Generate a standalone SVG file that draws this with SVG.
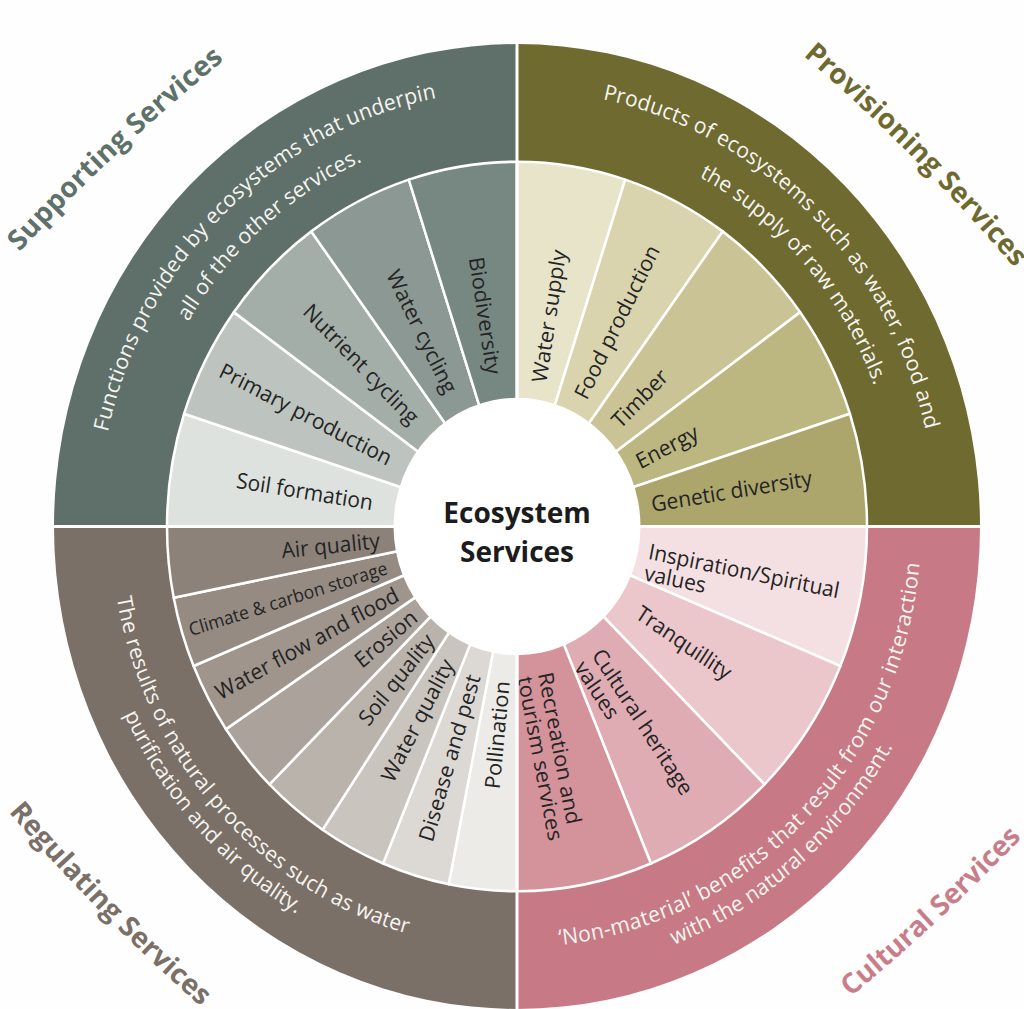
<svg xmlns="http://www.w3.org/2000/svg" width="1024" height="1009" viewBox="0 0 1024 1009">
  <style>
    .lbl { font-family: "Open Sans", "Liberation Sans", sans-serif; font-size: 21px; fill: #242424; }
    .small { font-size: 17.5px; }
    .desc { font-family: "Open Sans", "Liberation Sans", sans-serif; font-size: 21px; fill: #f5f4f0; }
    .title { font-family: "Open Sans", "Liberation Sans", sans-serif; font-size: 28px; font-weight: 700; }
    .hub { font-family: "Open Sans", "Liberation Sans", sans-serif; font-size: 28px; font-weight: 700; fill: #1c1c1c; }
    .seg { stroke: #ffffff; stroke-width: 2.5; stroke-linejoin: round; }
    .divider { stroke: #ffffff; stroke-width: 3; }
  </style>
  <defs>
    <!-- description arcs, wheel coordinates (centre at 0,0) -->
    <path id="arcSup1" d="M-406.0 103.5A419 419 0 0 1 113.4 -403.4"/>
    <path id="arcSup2" d="M-375.3 76.4A383 383 0 0 1 121.5 -363.2"/>
    <path id="arcPro1" d="M-112.0 -403.7A419 419 0 0 1 405.6 104.9"/>
    <path id="arcPro2" d="M-73.5 -374.9A382 382 0 0 1 361.4 123.7"/>
    <path id="arcReg1" d="M-386.1 -125.5A406 406 0 0 0 84.4 397.1"/>
    <path id="arcReg2" d="M-410.9 -133.5A432 432 0 0 0 89.8 422.6"/>
    <path id="arcCul1" d="M-101.2 391.1A404 404 0 0 0 389.3 -108.0"/>
    <path id="arcCul2" d="M-140.3 407.5A431 431 0 0 0 423.1 -82.2"/>
    <!-- title baselines, page coordinates -->
    <path id="tSup" d="M6 266.7A2000 2000 0 0 1 240 47.3"/>
    <path id="tPro" d="M791.4 45.4A2000 2000 0 0 1 1024.6 279.6"/>
    <path id="tReg" d="M-1.6 800.3A2000 2000 0 0 0 212.6 1016.7"/>
    <path id="tCul" d="M838 1007.2A2000 2000 0 0 0 1033 825.8"/>
  </defs>

  <rect width="1024" height="1009" fill="#fefefe"/>

  <g id="wheel" transform="translate(517,526.5) scale(1,1.042)">

    <!-- Supporting services -->
    <g id="supporting">
      <path fill="#5f706a" d="M0 0L-463 0A463 463 0 0 1 0 -463Z"/>
      <text class="desc"><textPath href="#arcSup1" startOffset="50%" text-anchor="middle" textLength="486" lengthAdjust="spacing">Functions provided by ecosystems that underpin</textPath></text>
      <text class="desc"><textPath href="#arcSup2" startOffset="50%" text-anchor="middle" textLength="236" lengthAdjust="spacing">all of the other services.</textPath></text>
      <g id="soil-formation">
        <path class="seg" fill="#dde2de" d="M0 0L-350 0A350 350 0 0 1 -332.9 -108.2Z"/>
        <text class="lbl" transform="rotate(9)" x="-146" dy=".35em" text-anchor="end">Soil formation</text>
      </g>
      <g id="primary-production">
        <path class="seg" fill="#bdc4bf" d="M0 0L-332.9 -108.2A350 350 0 0 1 -283.2 -205.7Z"/>
        <text class="lbl" transform="rotate(27)" x="-142" dy=".35em" text-anchor="end">Primary production</text>
      </g>
      <g id="nutrient-cycling">
        <path class="seg" fill="#a4aea9" d="M0 0L-283.2 -205.7A350 350 0 0 1 -205.7 -283.2Z"/>
        <text class="lbl" transform="rotate(45)" x="-144" dy=".35em" text-anchor="end">Nutrient cycling</text>
      </g>
      <g id="water-cycling">
        <path class="seg" fill="#8b9893" d="M0 0L-205.7 -283.2A350 350 0 0 1 -108.2 -332.9Z"/>
        <text class="lbl" transform="rotate(63)" x="-145" dy=".35em" text-anchor="end">Water cycling</text>
      </g>
      <g id="biodiversity">
        <path class="seg" fill="#778782" d="M0 0L-108.2 -332.9A350 350 0 0 1 0 -350Z"/>
        <text class="lbl" transform="rotate(81)" x="-148" dy=".35em" text-anchor="end">Biodiversity</text>
      </g>
    </g>

    <!-- Provisioning services -->
    <g id="provisioning">
      <path fill="#6e6a30" d="M0 0L0 -463A463 463 0 0 1 463 0Z"/>
      <text class="desc"><textPath href="#arcPro1" startOffset="50%" text-anchor="middle" textLength="478" lengthAdjust="spacing">Products of ecosystems such as water, food and</textPath></text>
      <text class="desc"><textPath href="#arcPro2" startOffset="50%" text-anchor="middle" textLength="272" lengthAdjust="spacing">the supply of raw materials.</textPath></text>
      <g id="water-supply">
        <path class="seg" fill="#e7e4ca" d="M0 0L0 -350A350 350 0 0 1 108.2 -332.9Z"/>
        <text class="lbl" transform="rotate(-81)" x="140" dy=".35em">Water supply</text>
      </g>
      <g id="food-production">
        <path class="seg" fill="#d9d4ae" d="M0 0L108.2 -332.9A350 350 0 0 1 205.7 -283.2Z"/>
        <text class="lbl" transform="rotate(-63)" x="139" dy=".35em">Food production</text>
      </g>
      <g id="timber">
        <path class="seg" fill="#c9c395" d="M0 0L205.7 -283.2A350 350 0 0 1 283.2 -205.7Z"/>
        <text class="lbl" transform="rotate(-45)" x="139" dy=".35em">Timber</text>
      </g>
      <g id="energy">
        <path class="seg" fill="#bcb681" d="M0 0L283.2 -205.7A350 350 0 0 1 332.9 -108.2Z"/>
        <text class="lbl" transform="rotate(-27)" x="135" dy=".35em">Energy</text>
      </g>
      <g id="genetic-diversity">
        <path class="seg" fill="#aca66c" d="M0 0L332.9 -108.2A350 350 0 0 1 350 0Z"/>
        <text class="lbl" transform="rotate(-9)" x="136" dy=".35em">Genetic diversity</text>
      </g>
    </g>

    <!-- Cultural services -->
    <g id="cultural">
      <path fill="#c77a85" d="M0 0L463 0A463 463 0 0 1 0 463Z"/>
      <text class="desc"><textPath href="#arcCul1" startOffset="50%" text-anchor="middle" textLength="557" lengthAdjust="spacing">‘Non-material’ benefits that result from our interaction</textPath></text>
      <text class="desc"><textPath href="#arcCul2" startOffset="50%" text-anchor="middle" textLength="296" lengthAdjust="spacing">with the natural environment.</textPath></text>
      <g id="inspiration-values">
        <path class="seg" fill="#f4e0e2" d="M0 0L350 0A350 350 0 0 1 323.4 133.9Z"/>
        <text class="lbl" transform="rotate(11.25)"><tspan x="134" y="5">Inspiration/Spiritual</tspan><tspan x="134" y="26">values</tspan></text>
      </g>
      <g id="tranquillity">
        <path class="seg" fill="#ebc6cb" d="M0 0L323.4 133.9A350 350 0 0 1 247.5 247.5Z"/>
        <text class="lbl" transform="rotate(33.75)" x="146" dy=".35em">Tranquillity</text>
      </g>
      <g id="cultural-heritage">
        <path class="seg" fill="#e0acb3" d="M0 0L247.5 247.5A350 350 0 0 1 133.9 323.4Z"/>
        <text class="lbl" transform="rotate(56.25)"><tspan x="144" y="7">Cultural heritage</tspan><tspan x="144" y="28">values</tspan></text>
      </g>
      <g id="recreation-tourism">
        <path class="seg" fill="#d4929b" d="M0 0L133.9 323.4A350 350 0 0 1 0 350Z"/>
        <text class="lbl" transform="rotate(78.75)"><tspan x="143" y="7">Recreation and</tspan><tspan x="143" y="28">tourism services</tspan></text>
      </g>
    </g>

    <!-- Regulating services -->
    <g id="regulating">
      <path fill="#7b7068" d="M0 0L0 463A463 463 0 0 1 -463 0Z"/>
      <text class="desc"><textPath href="#arcReg1" startOffset="50%" text-anchor="middle" textLength="458" lengthAdjust="spacing">The results of natural processes such as water</textPath></text>
      <text class="desc"><textPath href="#arcReg2" startOffset="50%" text-anchor="middle" textLength="262" lengthAdjust="spacing">purification and air quality.</textPath></text>
      <g id="pollination">
        <path class="seg" fill="#edebe8" d="M0 0L0 350A350 350 0 0 1 -68.3 343.3Z"/>
        <text class="lbl" transform="rotate(-84.375)" x="-149" dy=".35em" text-anchor="end">Pollination</text>
      </g>
      <g id="disease-and-pest">
        <path class="seg" fill="#dcd8d3" d="M0 0L-68.3 343.3A350 350 0 0 1 -133.9 323.4Z"/>
        <text class="lbl" transform="rotate(-73.125)" x="-149" dy=".35em" text-anchor="end">Disease and pest</text>
      </g>
      <g id="water-quality">
        <path class="seg" fill="#cac4be" d="M0 0L-133.9 323.4A350 350 0 0 1 -194.5 291.0Z"/>
        <text class="lbl" transform="rotate(-61.875)" x="-146" dy=".35em" text-anchor="end">Water quality</text>
      </g>
      <g id="soil-quality">
        <path class="seg" fill="#bab3ac" d="M0 0L-194.5 291.0A350 350 0 0 1 -247.5 247.5Z"/>
        <text class="lbl" transform="rotate(-50.625)" x="-137" dy=".35em" text-anchor="end">Soil quality</text>
      </g>
      <g id="erosion">
        <path class="seg" fill="#aba39b" d="M0 0L-247.5 247.5A350 350 0 0 1 -291.0 194.5Z"/>
        <text class="lbl" transform="rotate(-39.375)" x="-133" dy=".35em" text-anchor="end">Erosion</text>
      </g>
      <g id="water-flow">
        <path class="seg" fill="#9f958d" d="M0 0L-291.0 194.5A350 350 0 0 1 -323.4 133.9Z"/>
        <text class="lbl" transform="rotate(-28.125)" x="-136" dy=".35em" text-anchor="end">Water flow and flood</text>
      </g>
      <g id="climate-carbon">
        <path class="seg" fill="#968b83" d="M0 0L-323.4 133.9A350 350 0 0 1 -343.3 68.3Z"/>
        <text class="lbl small" transform="rotate(-16.875)" x="-136" dy=".35em" text-anchor="end">Climate &amp; carbon storage</text>
      </g>
      <g id="air-quality">
        <path class="seg" fill="#8d8279" d="M0 0L-343.3 68.3A350 350 0 0 1 -350 0Z"/>
        <text class="lbl" transform="rotate(-5.625)" x="-138" dy=".35em" text-anchor="end">Air quality</text>
      </g>
    </g>

    <!-- white gaps between the four quadrants -->
    <line class="divider" x1="0" y1="-470" x2="0" y2="470"/>
    <line class="divider" x1="-470" y1="0" x2="470" y2="0"/>

    <!-- hub disc -->
    <circle id="hub-disc" r="123.5" fill="#ffffff"/>
  </g>

  <g id="hub">
    <text class="hub" x="517" y="523" text-anchor="middle">Ecosystem</text>
    <text class="hub" x="517" y="562" text-anchor="middle">Services</text>
  </g>

  <!-- quadrant titles -->
  <g id="titles">
    <text class="title" fill="#5f716b"><textPath href="#tSup" startOffset="50%" text-anchor="middle" textLength="281" lengthAdjust="spacing">Supporting Services</textPath></text>
    <text class="title" fill="#6e6a2f"><textPath href="#tPro" startOffset="50%" text-anchor="middle" textLength="300" lengthAdjust="spacing">Provisioning Services</textPath></text>
    <text class="title" fill="#7b7068"><textPath href="#tReg" startOffset="50%" text-anchor="middle" textLength="274" lengthAdjust="spacing">Regulating Services</textPath></text>
    <text class="title" fill="#c97d88"><textPath href="#tCul" startOffset="50%" text-anchor="middle" textLength="234" lengthAdjust="spacing">Cultural Services</textPath></text>
  </g>
</svg>
